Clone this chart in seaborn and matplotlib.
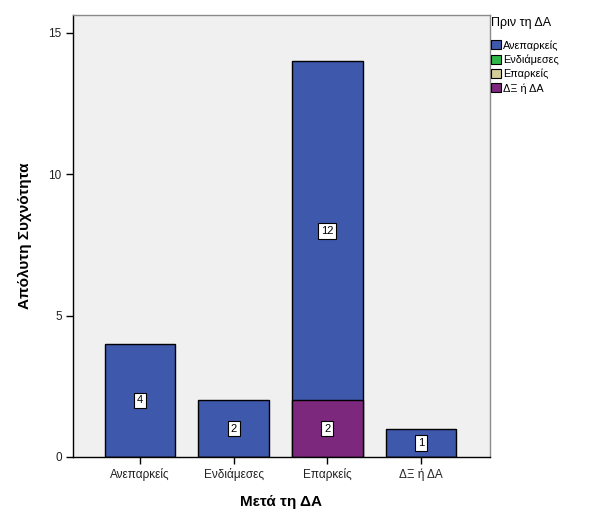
import numpy as np
import pandas as pd
import matplotlib
matplotlib.use("Agg")
import matplotlib.pyplot as plt
import seaborn as sns
from matplotlib.patches import Patch

# Data
categories = ['Ανεπαρκείς', 'Ενδιάμεσες', 'Επαρκείς', 'ΔΞ ή ΔΑ']
inadequate = [4, 2, 12, 1]        # Πριν: Ανεπαρκείς
dk_na = [0, 0, 2, 0]              # Πριν: ΔΞ ή ΔΑ
legend_labels = ['Ανεπαρκείς', 'Ενδιάμεσες', 'Επαρκείς', 'ΔΞ ή ΔΑ']
legend_colors = ['#3e58ac', '#2eb848', '#d3ce97', '#7c287d']

sns.set_style("white")
plt.rcParams['font.family'] = ['Liberation Sans', 'DejaVu Sans']
plt.rcParams['text.color'] = 'black'
plt.rcParams['axes.labelcolor'] = 'black'

df = pd.DataFrame({'cat': categories, 'low': inadequate, 'dk': dk_na})
df['total'] = df['low'] + df['dk']

fig = plt.figure(figsize=(6.02, 5.14), dpi=100)
ax = fig.add_axes([0.121, 0.111, 0.693, 0.860])
ax.set_facecolor('#f0f0f0')

# blue on the full stack height, purple bottom segment drawn over it
sns.barplot(data=df, x='cat', y='total', color=legend_colors[0], saturation=1,
            width=0.75, edgecolor='black', linewidth=1, ax=ax)
sns.barplot(data=df, x='cat', y='dk', color=legend_colors[3], saturation=1,
            width=0.75, edgecolor='black', linewidth=1, ax=ax)

# value boxes
box = dict(boxstyle='square,pad=0.25', facecolor='white', edgecolor='black', linewidth=0.8)
for i, (lo, dk) in enumerate(zip(inadequate, dk_na)):
    if dk > 0:
        ax.text(i, dk / 2, str(dk), ha='center', va='center', fontsize=8, bbox=box)
    if lo > 0:
        ax.text(i, dk + lo / 2, str(lo), ha='center', va='center', fontsize=8, bbox=box)

ax.set_xlim(-0.715, 3.735)
ax.set_ylim(0, 15.64)
ax.set_yticks([0, 5, 10, 15])
ax.tick_params(axis='both', bottom=True, left=True, direction='out', length=5,
               width=1, pad=3, labelsize=8.5, colors='black', labelcolor='#222222')
ax.set_xlabel('Μετά τη ΔΑ', fontsize=11, fontweight='bold', labelpad=10)
ax.set_ylabel('Απόλυτη Συχνότητα', fontsize=11, fontweight='bold', labelpad=12)

for side in ['left', 'bottom']:
    ax.spines[side].set_color('black')
    ax.spines[side].set_linewidth(1)
for side in ['top', 'right']:
    ax.spines[side].set_color('#8a8a8a')
    ax.spines[side].set_linewidth(1)

handles = [Patch(facecolor=c, edgecolor='black', linewidth=0.8) for c in legend_colors]
leg = ax.legend(handles, legend_labels, title='Πριν τη ΔΑ', loc='upper left',
                bbox_to_anchor=(0.997, 1.0), frameon=False, fontsize=7.8,
                title_fontsize=9, handlelength=0.9, handleheight=0.9,
                handletextpad=0.2, labelspacing=0.35, borderaxespad=0.1,
                borderpad=0.1, alignment='left')
leg._legend_box.sep = 8

fig.savefig('out.png', dpi=100)
